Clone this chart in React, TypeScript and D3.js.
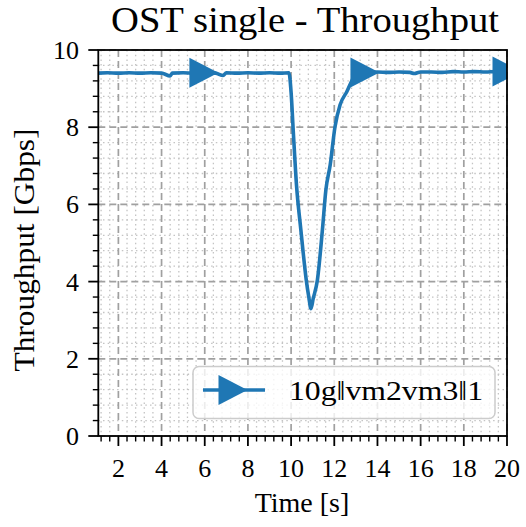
import { useRef, useEffect } from "react";
import * as d3 from "d3";

// Throughput trace (time in s, Gbps)
const times = [
  1.07, 1.5, 2.0, 2.5, 3.0, 3.5, 4.0, 4.4, 4.5, 5.0, 5.5, 6.0, 6.5, 6.85, 7.0,
  7.5, 8.0, 8.5, 9.0, 9.5, 9.9, 10.0, 10.1, 10.25, 10.45, 10.55, 10.7, 10.82,
  10.92, 11.02, 11.22, 11.45, 11.61, 11.81, 12.03, 12.27, 12.58, 12.88, 13.2,
  13.5, 14.0, 14.5, 15.0, 15.5, 15.7, 16.0, 16.5, 17.0, 17.5, 18.0, 18.5, 19.0,
  19.5, 20.0,
];
const throughput = [
  9.4, 9.41, 9.4, 9.41, 9.4, 9.41, 9.4, 9.33, 9.4, 9.41, 9.4, 9.41, 9.4, 9.34,
  9.41, 9.4, 9.41, 9.4, 9.41, 9.4, 9.41, 8.9, 7.9, 6.5, 5.35, 4.8, 4.05, 3.6,
  3.3, 3.55, 4.05, 5.34, 6.37, 7.02, 8.0, 8.58, 8.92, 9.27, 9.42, 9.42, 9.43,
  9.42, 9.43, 9.42, 9.39, 9.43, 9.43, 9.42, 9.44, 9.43, 9.44, 9.43, 9.44, 9.44,
];

// marker positions (markevery)
const markerTimes = [5.96, 13.42, 20.0];
const markerValues = [9.41, 9.42, 9.44];

const xTicks = [2, 4, 6, 8, 10, 12, 14, 16, 18, 20];
const yTicks = [0, 2, 4, 6, 8, 10];

const seriesLabel = "10g\u2016vm2vm3\u20161";
const titleText = "OST single - Throughput";
const xLabel = "Time [s]";
const yLabel = "Throughput [Gbps]";

const BLUE = "#1f77b4";
const FONT = "'Liberation Serif', 'DejaVu Serif', serif";

export default function App() {
  const svgRef = useRef<SVGSVGElement>(null);

  useEffect(() => {
    const width = 526;
    const height = 527;
    const left = 98.3, right = 507, top = 50, bottom = 436;

    const svg = d3.select(svgRef.current)
      .attr("width", width)
      .attr("height", height);
    svg.selectAll("*").remove();

    const x = d3.scaleLinear().domain([1.07, 20]).range([left, right]);
    const y = d3.scaleLinear().domain([0, 10]).range([bottom, top]);

    const xMinor = d3.range(1.2, 20.01, 0.4).filter(v => Math.abs(v / 2 - Math.round(v / 2)) > 0.01);
    const yMinor = d3.range(0.4, 10, 0.4).filter(v => Math.abs(v / 2 - Math.round(v / 2)) > 0.01);

    svg.append("defs").append("clipPath").attr("id", "plotclip")
      .append("rect")
      .attr("x", left).attr("y", top)
      .attr("width", right - left).attr("height", bottom - top);

    const grid = svg.append("g");

    // minor grid, dotted
    grid.selectAll(".xmg").data(xMinor).join("line")
      .attr("x1", d => x(d)).attr("x2", d => x(d))
      .attr("y1", top).attr("y2", bottom)
      .attr("stroke", "#c4c4c4").attr("stroke-width", 1.3)
      .attr("stroke-dasharray", "1.5,3.2");
    grid.selectAll(".ymg").data(yMinor).join("line")
      .attr("x1", left).attr("x2", right)
      .attr("y1", d => y(d)).attr("y2", d => y(d))
      .attr("stroke", "#c4c4c4").attr("stroke-width", 1.3)
      .attr("stroke-dasharray", "1.5,3.2");

    // major grid, dashed
    grid.selectAll(".xg").data(xTicks).join("line")
      .attr("x1", d => x(d)).attr("x2", d => x(d))
      .attr("y1", top).attr("y2", bottom)
      .attr("stroke", "#a0a0a0").attr("stroke-width", 1.7)
      .attr("stroke-dasharray", "7,4");
    grid.selectAll(".yg").data(yTicks).join("line")
      .attr("x1", left).attr("x2", right)
      .attr("y1", d => y(d)).attr("y2", d => y(d))
      .attr("stroke", "#a0a0a0").attr("stroke-width", 1.7)
      .attr("stroke-dasharray", "7,4");

    // series
    const data = times.map((t, i) => [t, throughput[i]] as [number, number]);
    const line = d3.line<[number, number]>().x(d => x(d[0])).y(d => y(d[1])).curve(d3.curveMonotoneX);

    const plot = svg.append("g").attr("clip-path", "url(#plotclip)");
    plot.append("path")
      .attr("d", line(data))
      .attr("fill", "none")
      .attr("stroke", BLUE)
      .attr("stroke-width", 3.6)
      .attr("stroke-linejoin", "round");

    const tri = "M14.5,0 L-14.5,-15 L-14.5,15 Z";
    plot.selectAll(".mk").data(markerTimes).join("path")
      .attr("d", tri)
      .attr("transform", (d, i) => `translate(${x(d)},${y(markerValues[i])})`)
      .attr("fill", BLUE);

    // frame
    svg.append("rect")
      .attr("x", left).attr("y", top)
      .attr("width", right - left).attr("height", bottom - top)
      .attr("fill", "none").attr("stroke", "black").attr("stroke-width", 1.8);

    // ticks
    svg.selectAll(".xt").data(xTicks).join("line")
      .attr("x1", d => x(d)).attr("x2", d => x(d))
      .attr("y1", bottom).attr("y2", bottom + 10)
      .attr("stroke", "black").attr("stroke-width", 1.8);
    svg.selectAll(".xmt").data(xMinor).join("line")
      .attr("x1", d => x(d)).attr("x2", d => x(d))
      .attr("y1", bottom).attr("y2", bottom + 5.5)
      .attr("stroke", "black").attr("stroke-width", 1.4);
    svg.selectAll(".yt").data(yTicks).join("line")
      .attr("x1", left - 10).attr("x2", left)
      .attr("y1", d => y(d)).attr("y2", d => y(d))
      .attr("stroke", "black").attr("stroke-width", 1.8);
    svg.selectAll(".ymt").data(yMinor).join("line")
      .attr("x1", left - 5.5).attr("x2", left)
      .attr("y1", d => y(d)).attr("y2", d => y(d))
      .attr("stroke", "black").attr("stroke-width", 1.4);

    // tick labels
    svg.selectAll(".xl").data(xTicks).join("text")
      .attr("x", d => x(d)).attr("y", 477)
      .attr("text-anchor", "middle")
      .style("font-family", FONT).style("font-size", "26px")
      .text(d => d);
    svg.selectAll(".yl").data(yTicks).join("text")
      .attr("x", 79).attr("y", d => y(d) + 9)
      .attr("text-anchor", "end")
      .style("font-family", FONT).style("font-size", "26px")
      .text(d => d);

    // title + axis labels
    svg.append("text")
      .attr("x", 305).attr("y", 32)
      .attr("text-anchor", "middle")
      .attr("textLength", 388).attr("lengthAdjust", "spacingAndGlyphs")
      .style("font-family", FONT).style("font-size", "35px")
      .text(titleText);
    svg.append("text")
      .attr("x", 302).attr("y", 512)
      .attr("text-anchor", "middle")
      .style("font-family", FONT).style("font-size", "28px")
      .text(xLabel);
    svg.append("text")
      .attr("transform", "translate(34,250) rotate(-90)")
      .attr("text-anchor", "middle")
      .attr("textLength", 243).attr("lengthAdjust", "spacingAndGlyphs")
      .style("font-family", FONT).style("font-size", "29px")
      .text(yLabel);

    // legend
    const lg = svg.append("g");
    lg.append("rect")
      .attr("x", 193).attr("y", 366.5)
      .attr("width", 302).attr("height", 52)
      .attr("rx", 6)
      .attr("fill", "white").attr("fill-opacity", 0.8)
      .attr("stroke", "#cccccc").attr("stroke-width", 1.5);
    lg.append("line")
      .attr("x1", 203).attr("x2", 265).attr("y1", 390).attr("y2", 390)
      .attr("stroke", BLUE).attr("stroke-width", 3.6);
    lg.append("path")
      .attr("d", tri)
      .attr("transform", "translate(233,390)")
      .attr("fill", BLUE);
    lg.append("text")
      .attr("x", 289).attr("y", 400)
      .attr("textLength", 194).attr("lengthAdjust", "spacingAndGlyphs")
      .style("font-family", FONT).style("font-size", "28px")
      .text(seriesLabel);
  }, []);

  return (
    <div style={{ position: "absolute", left: 0, top: 0 }}>
      <svg ref={svgRef} style={{ display: "block" }}></svg>
    </div>
  );
}
